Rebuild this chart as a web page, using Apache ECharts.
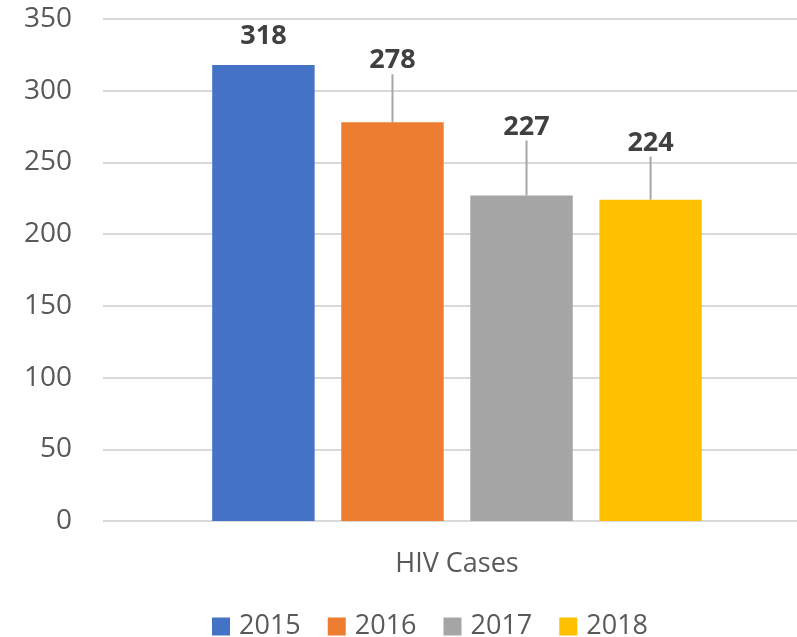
<!DOCTYPE html>
<html>
<head>
<meta charset="utf-8">
<script src="https://cdn.jsdelivr.net/npm/echarts@6/dist/echarts.min.js"></script>
<style>html,body{margin:0;padding:0;background:#fff}#c{width:797px;height:637px}</style>
</head>
<body>
<div id="c"></div>
<script>
const categories = ['HIV Cases'];
const years = ['2015', '2016', '2017', '2018'];
const v2015 = [318];
const v2016 = [278];
const v2017 = [227];
const v2018 = [224];
const yTicks = { min: 0, max: 350, interval: 50 };

const colors = ['#4472C4', '#ED7D31', '#A5A5A5', '#FFC000'];
const seriesValues = [v2015, v2016, v2017, v2018];
const labelShift = [[0, -7], [0, -40], [5, -47], [0, -35]];
const FONT = '"Open Sans", sans-serif';

const chart = echarts.init(document.getElementById('c'));
chart.setOption({
  animation: false,
  color: colors,
  textStyle: { fontFamily: FONT },
  grid: [
    { left: 103, right: 0, top: 19, bottom: 116 },
    { left: 117, right: 0, top: 19, bottom: 116 }
  ],
  legend: {
    top: 608, left: 207,
    itemWidth: 18, itemHeight: 18, itemGap: 27,
    icon: 'rect',
    textStyle: { fontSize: 27, color: '#595959', fontFamily: FONT, padding: [0, 0, 0, 4] },
    data: years
  },
  xAxis: [
    { gridIndex: 0, type: 'category', data: categories, show: false },
    {
      gridIndex: 1, type: 'category', data: categories,
      axisLine: { show: false },
      axisTick: { show: false },
      axisLabel: { fontSize: 27, color: '#595959', margin: 30, fontFamily: FONT }
    }
  ],
  yAxis: [
    {
      gridIndex: 0, type: 'value', min: yTicks.min, max: yTicks.max, interval: yTicks.interval,
      axisLine: { show: false }, axisTick: { show: false },
      splitLine: { lineStyle: { color: '#d9d9d9', width: 2 } },
      axisLabel: { fontSize: 28, color: '#595959', margin: 31, fontFamily: FONT }
    },
    {
      gridIndex: 1, type: 'value', min: yTicks.min, max: yTicks.max, interval: yTicks.interval,
      show: false, splitLine: { show: false }
    }
  ],
  series: years.map((y, i) => ({
    name: y, type: 'bar', data: seriesValues[i],
    xAxisIndex: 1, yAxisIndex: 1,
    barGap: '26%', barCategoryGap: '28%',
    itemStyle: { color: colors[i] },
    label: {
      show: true, position: 'top', distance: 8,
      fontSize: 27, fontWeight: 'bold', color: '#404040', fontFamily: FONT
    },
    labelLayout: { dx: labelShift[i][0], dy: labelShift[i][1] },
    labelLine: { show: i > 0, lineStyle: { color: '#a6a6a6', width: 2 } }
  }))
});
</script>
</body>
</html>
